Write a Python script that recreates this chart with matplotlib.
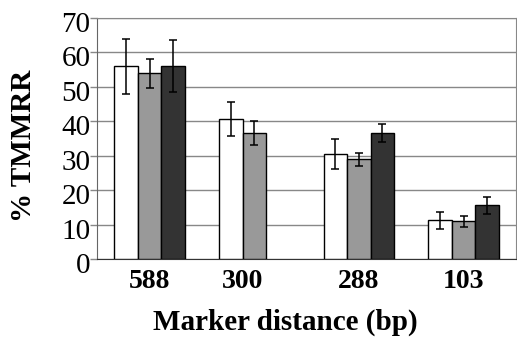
import matplotlib
matplotlib.use("Agg")
import matplotlib.pyplot as plt
import matplotlib.transforms as mtransforms
import numpy as np

# data
groups = ["588", "300", "288", "103"]
white_vals = [56, 40.7, 30.5, 11.3]
white_err = [8, 5, 4.3, 2.5]
gray_vals = [54, 36.6, 29, 11]
gray_err = [4.2, 3.6, 1.9, 1.6]
# no dark bar for 300
dark_vals = [56, np.nan, 36.6, 15.6]
dark_err = [7.5, np.nan, 2.5, 2.4]

series = [
    (white_vals, white_err, "white"),
    (gray_vals, gray_err, "#999999"),
    (dark_vals, dark_err, "#333333"),
]

plt.rcParams["font.family"] = ["Liberation Serif", "DejaVu Serif"]

fig = plt.figure(figsize=(5.17, 3.4), dpi=100)
ax = fig.add_axes([0.188, 0.238, 0.81, 0.709])

x = np.arange(len(groups))
width = 0.224
offsets = [-width, 0, width]

for (vals, errs, color), off in zip(series, offsets):
    vals = np.array(vals, dtype=float)
    errs = np.array(errs, dtype=float)
    ok = ~np.isnan(vals)
    ax.bar(x[ok] + off, vals[ok], width, color=color, edgecolor="black",
           linewidth=1.0, zorder=3)
    ax.errorbar(x[ok] + off, vals[ok], yerr=errs[ok], fmt="none",
                ecolor="black", elinewidth=1.1, capsize=3, capthick=1.1, zorder=4)

# tick at centre of the bars actually drawn in each group
centers = []
for i in range(len(groups)):
    present = [off for (vals, _, _), off in zip(series, offsets) if not np.isnan(vals[i])]
    centers.append(i + np.mean(present))

ax.set_xlim(-0.5, len(groups) - 0.5)
ax.set_ylim(0, 70)
ax.set_yticks(range(0, 71, 10))
ax.set_xticks(centers)
ax.set_xticklabels(groups, fontsize=20, fontweight="bold")
ax.tick_params(axis="y", labelsize=21, length=5, width=1.0, color="#888888", pad=0)
ax.tick_params(axis="x", length=0, pad=7)

# labels sit a little low in the original
shift = mtransforms.ScaledTranslation(0, -4 / 100, fig.dpi_scale_trans)
for lab in ax.get_yticklabels():
    lab.set_transform(lab.get_transform() + shift)

ax.grid(axis="y", color="#888888", linewidth=1.0, zorder=0)
for side in ["top", "right"]:
    ax.spines[side].set_color("#888888")
ax.spines["left"].set_color("#666666")
ax.spines["bottom"].set_color("#333333")

fig.text(24 / 517, 1 - 146 / 340, "% TMMRR", fontsize=21, fontweight="bold",
         rotation=90, ha="center", va="center")
fig.text(285 / 517, 1 - 322 / 340, "Marker distance (bp)", fontsize=21,
         fontweight="bold", ha="center", va="center")

fig.savefig("out.png", dpi=100)
